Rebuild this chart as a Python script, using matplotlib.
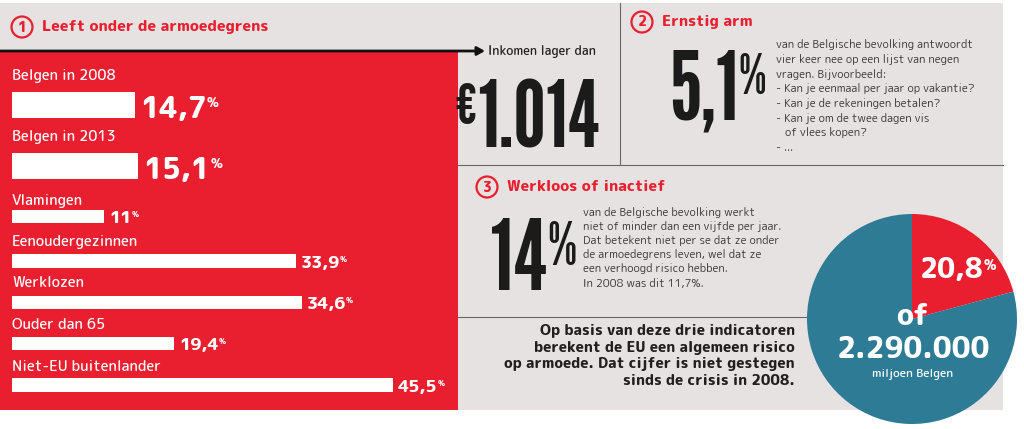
import matplotlib
matplotlib.use("Agg")
import matplotlib.pyplot as plt
from matplotlib.patches import Rectangle, Circle

# =========================
# DATA
# =========================
categories = ["Belgen in 2008", "Belgen in 2013", "Vlamingen", "Eenoudergezinnen",
              "Werklozen", "Ouder dan 65", "Niet-EU buitenlander"]
poverty_pct = [14.7, 15.1, 11.0, 33.9, 34.6, 19.4, 45.5]
income_limit = "1.014"
severe_pct = "5,1"
inactive_pct = "14"
risk_share = 20.8
risk_people = "2.290.000"

severe_text = ["van de Belgische bevolking antwoordt",
               "vier keer nee op een lijst van negen",
               "vragen. Bijvoorbeeld:",
               "- Kan je eenmaal per jaar op vakantie?",
               "- Kan je de rekeningen betalen?",
               "- Kan je om de twee dagen vis",
               "   of vlees kopen?",
               "- ..."]
inactive_text = ["van de Belgische bevolking werkt",
                 "niet of minder dan een vijfde per jaar.",
                 "Dat betekent niet per se dat ze onder",
                 "de armoedegrens leven, wel dat ze",
                 "een verhoogd risico hebben.",
                 "In 2008 was dit 11,7%."]
summary_text = ["Op basis van deze drie indicatoren",
                "berekent de EU een algemeen risico",
                "op armoede. Dat cijfer is niet gestegen",
                "sinds de crisis in 2008."]

# =========================
# STYLE
# =========================
RED = "#e91e2e"
TEAL = "#2e7b96"
GREY = "#e6e2e1"
DARK = "#231f20"
INK = "#1b1b1b"
FONT = "Rounded Mplus 1c"
BIG = "League Gothic"

W, H = 1024, 429
fig = plt.figure(figsize=(W / 100, H / 100), dpi=100)
fig.patch.set_facecolor("white")

# background axes in pixel units
bg = fig.add_axes([0, 0, 1, 1])
bg.set_xlim(0, W)
bg.set_ylim(H, 0)
bg.axis("off")

bg.add_patch(Rectangle((0, 3), 1003, 407, color=GREY, lw=0))
bg.add_patch(Rectangle((0, 51), 458, 359, color=RED, lw=0))
bg.plot([620, 620], [3, 165], color="#6b6767", lw=0.8)
bg.plot([458, 1003], [165, 165], color="#6b6767", lw=0.8)
bg.plot([458, 830], [317, 317], color="#6b6767", lw=0.8)
bg.annotate("", xy=(485, 51), xytext=(0, 51),
            arrowprops=dict(arrowstyle="-|>,head_length=0.45,head_width=0.25",
                            lw=2, color="#111111", shrinkA=0, shrinkB=0))


def header(x, y, num, title):
    bg.add_patch(Circle((x, y), 10.5, fill=False, ec=RED, lw=1.6))
    bg.text(x, y + 0.5, num, color=RED, fontsize=10, fontweight=800, family=FONT,
            ha="center", va="center")
    bg.text(x + 20, y, title, color=RED, fontsize=11, fontweight=800, family=FONT,
            ha="left", va="center")


header(22, 27, "1", "Leeft onder de armoedegrens")
header(642, 22, "2", "Ernstig arm")
header(487, 187, "3", "Werkloos of inactief")

# =========================
# BARS
# =========================
bar_y = [105, 166, 216.5, 261, 302.5, 343.5, 385]
bar_h = [26, 26, 13, 14, 13, 13, 14]
label_y = [76, 137, 201, 242, 283, 325, 367]
big_rows = [0, 1]

bar_ax = fig.add_axes([12 / W, 0, 8.37 * 50 / W, 1])
bar_ax.set_xlim(0, 50)
bar_ax.set_ylim(H, 0)
bar_ax.axis("off")
bar_ax.barh(bar_y, poverty_pct, height=bar_h, color="white", lw=0)

for i, (cat, val) in enumerate(zip(categories, poverty_pct)):
    bar_ax.text(0, label_y[i], cat, color="white", fontsize=10.5, fontweight=500,
                family=FONT, ha="left", va="center")
    num = f"{val:.1f}".replace(".", ",") if val % 1 else f"{val:.0f}"
    size = 21 if i in big_rows else 12.5
    t = bar_ax.text(val + 0.6, bar_y[i] + bar_h[i] / 2, num, color="white",
                    fontsize=size, fontweight=800, family=FONT, ha="left", va="baseline")
    bar_ax.annotate("%", xy=(1, 0.92), xycoords=t, color="white", fontsize=size * 0.45,
                    fontweight=800, family=FONT, ha="left", va="top")

# =========================
# BIG NUMBERS
# =========================
bg.text(488, 51, "Inkomen lager dan", color=DARK, fontsize=9, family=FONT,
        fontweight=500, ha="left", va="center")
t = bg.text(600, 148, income_limit, color=INK, fontsize=66, family=BIG,
            ha="right", va="baseline")
bg.annotate("€", xy=(0, 0.97), xycoords=t, color=INK, fontsize=40, family=BIG,
            ha="right", va="top")

t = bg.text(669, 120, severe_pct, color=INK, fontsize=68, family=BIG,
            ha="left", va="baseline")
bg.annotate("%", xy=(1, 0.97), xycoords=t, color=INK, fontsize=40, family=BIG,
            ha="left", va="top")

t = bg.text(490, 290, inactive_pct, color=INK, fontsize=70, family=BIG,
            ha="left", va="baseline")
bg.annotate("%", xy=(1, 0.97), xycoords=t, color=INK, fontsize=42, family=BIG,
            ha="left", va="top")

for i, line in enumerate(severe_text):
    bg.text(776, 45 + 14.6 * i, line, color="#3a3636", fontsize=8, family=FONT,
            ha="left", va="center")
for i, line in enumerate(inactive_text):
    bg.text(583, 212 + 14.2 * i, line, color="#3a3636", fontsize=8, family=FONT,
            ha="left", va="center")
for i, line in enumerate(summary_text):
    bg.text(795, 331 + 16.6 * i, line, color=DARK, fontsize=10.5, fontweight=800,
            family=FONT, ha="right", va="center")

# =========================
# PIE
# =========================
pie_ax = fig.add_axes([807 / W, (H - 424) / H, 210 / W, 210 / H])
pie_ax.pie([risk_share, 100 - risk_share], colors=[RED, TEAL], startangle=90,
           counterclock=False, radius=1, wedgeprops=dict(lw=0))
pie_ax.set_xlim(-1, 1)
pie_ax.set_ylim(-1, 1)
pie_ax.set_aspect("equal")
pie_ax.axis("off")

t = pie_ax.text(920, 278, f"{risk_share:.1f}".replace(".", ","), transform=bg.transData,
                color="white", fontsize=20, fontweight=800, family=FONT,
                ha="left", va="baseline")
pie_ax.annotate("%", xy=(1, 0.92), xycoords=t, color="white", fontsize=10,
                fontweight=800, family=FONT, ha="left", va="top")
pie_ax.text(913, 317, "of", transform=bg.transData, color="white", fontsize=21,
            fontweight=800, family=FONT, ha="center", va="center")
pie_ax.text(913, 350, risk_people, transform=bg.transData, color="white", fontsize=21,
            fontweight=800, family=FONT, ha="center", va="center")
pie_ax.text(913, 375, "miljoen Belgen", transform=bg.transData, color="white",
            fontsize=8.5, fontweight=500, family=FONT, ha="center", va="center")

fig.savefig("out.png", dpi=100)
